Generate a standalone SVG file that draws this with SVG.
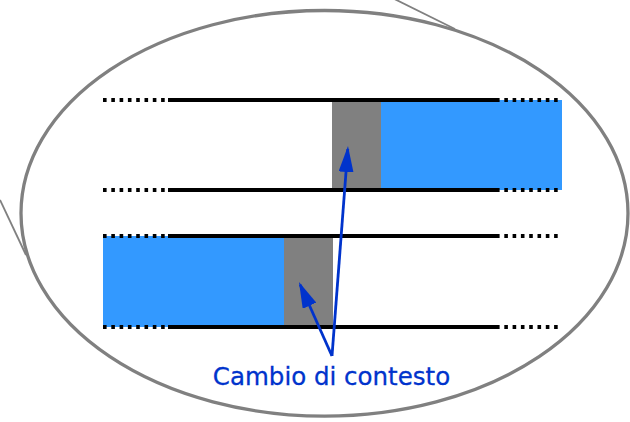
<svg xmlns="http://www.w3.org/2000/svg" width="630" height="422" viewBox="0 0 630 422">
  <style>
    .solid { stroke: #000; stroke-width: 4.2; fill: none; }
    .dot { stroke: #000; stroke-width: 3.8; stroke-dasharray: 3.6 4.7; fill: none; }
    .blue { fill: #3399FF; }
    .gray { fill: #808080; }
    .arrow { stroke: #0033CC; stroke-width: 2.8; fill: none; marker-end: url(#head); }
    .label { font-family: "DejaVu Sans", Verdana, sans-serif; font-size: 24.5px; fill: #0033CC; stroke: #0033CC; stroke-width: 0.3; }
    .thin { stroke: #808080; stroke-width: 1.8; fill: none; }
  </style>
  <defs>
    <marker id="head" viewBox="0 0 26 15" refX="23" refY="7.5" markerWidth="26" markerHeight="15" markerUnits="userSpaceOnUse" orient="auto">
      <path d="M0,0 L26,7.5 L0,15 z" fill="#0033CC"/>
    </marker>
  </defs>
  <rect width="630" height="422" fill="#fff"/>
  <g id="callout-lines">
    <line class="thin" x1="346" y1="-25" x2="455" y2="29"/>
    <line class="thin" x1="0" y1="200" x2="26" y2="255"/>
  </g>
  <g id="zoom-ellipse">
    <ellipse cx="324.5" cy="213.3" rx="303.5" ry="202.8" fill="none" stroke="#808080" stroke-width="3.3"/>
  </g>
  <g id="lane1">
    <rect class="gray" x="332" y="100" width="49" height="90"/>
    <rect class="blue" x="381" y="100" width="181" height="90"/>
    <line class="dot" x1="103" y1="100" x2="168" y2="100"/>
    <line class="solid" x1="168" y1="100" x2="496" y2="100"/>
    <line class="dot" x1="496" y1="100" x2="562" y2="100"/>
    <line class="dot" x1="103" y1="190" x2="168" y2="190"/>
    <line class="solid" x1="168" y1="190" x2="496" y2="190"/>
    <line class="dot" x1="496" y1="190" x2="562" y2="190"/>
  </g>
  <g id="lane2">
    <rect class="blue" x="103" y="236" width="181" height="91"/>
    <rect class="gray" x="284" y="236" width="49" height="91"/>
    <line class="dot" x1="103" y1="236" x2="168" y2="236"/>
    <line class="solid" x1="168" y1="236" x2="496" y2="236"/>
    <line class="dot" x1="496" y1="236" x2="562" y2="236"/>
    <line class="dot" x1="103" y1="327" x2="168" y2="327"/>
    <line class="solid" x1="168" y1="327" x2="496" y2="327"/>
    <line class="dot" x1="496" y1="327" x2="562" y2="327"/>
  </g>
  <g id="connectors">
    <line class="arrow" x1="332" y1="356" x2="347.77" y2="149"/>
    <line class="arrow" x1="332" y1="356" x2="300.2" y2="284.7"/>
  </g>
  <g id="label-node">
    <text class="label" x="331.5" y="385" text-anchor="middle">Cambio di contesto</text>
  </g>
</svg>
